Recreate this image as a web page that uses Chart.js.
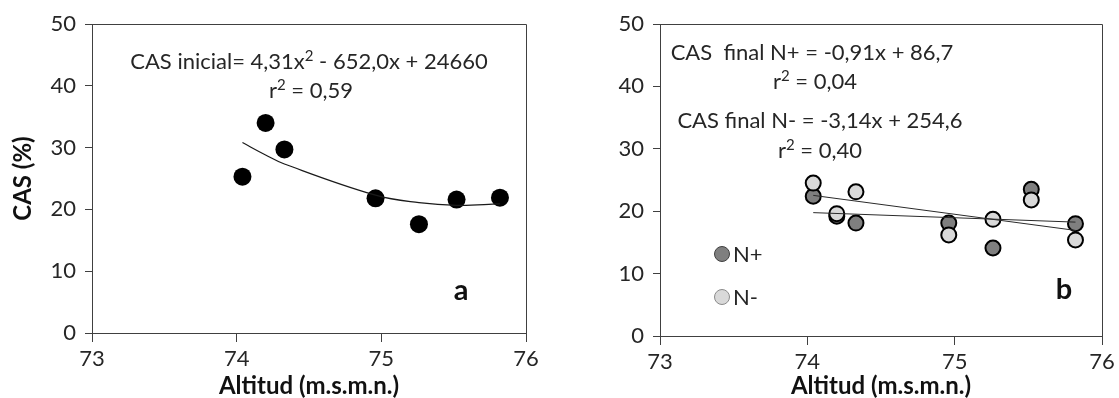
<!DOCTYPE html>
<html>
<head>
<meta charset="utf-8">
<script src="https://cdn.jsdelivr.net/npm/chart.js@4.4.1/dist/chart.umd.min.js"></script>
<style>
  html, body { margin: 0; padding: 0; background: #ffffff; }
  #wrap { position: relative; width: 1119px; height: 398px; overflow: hidden; }
  .panel { position: absolute; top: 0; height: 398px; }
</style>
</head>
<body>
<div id="wrap">
  <div class="panel" style="left:0;width:560px"><canvas id="panelA"></canvas></div>
  <div class="panel" style="left:560px;width:559px"><canvas id="panelB"></canvas></div>
</div>
<script>
// Altitude of each plot (m.s.m.n.) and soil water content (CAS, %)
const altitud        = [74.04, 74.20, 74.33, 74.96, 75.26, 75.52, 75.82];
const casInicial     = [25.3, 34.0, 29.7, 21.8, 17.6, 21.6, 21.9];
const casFinalNmas   = [22.4, 19.2, 18.1, 18.1, 14.1, 23.5, 18.0];
const casFinalNmenos = [24.5, 19.6, 23.1, 16.2, 18.7, 21.8, 15.4];

const xTicks = [73, 74, 75, 76];
const yTicks = [0, 10, 20, 30, 40, 50];

const eqInicial = ['CAS inicial= 4,31x² - 652,0x + 24660', 'r² = 0,59'];
const eqFinal   = ['CAS  final N+ = -0,91x + 86,7', 'r² = 0,04',
                   'CAS final N- = -3,14x + 254,6', 'r² = 0,40'];
const serieLabels = ['N+', 'N-'];
const panelLetters = ['a', 'b'];

const FONT = 'Lato, "Open Sans", sans-serif';
const AXIS = '#404040';
const TEXT = '#262626';

// least-squares straight line
function linearFit(xs, ys) {
  const n = xs.length;
  const mx = xs.reduce((s, v) => s + v, 0) / n;
  const my = ys.reduce((s, v) => s + v, 0) / n;
  let sxy = 0, sxx = 0;
  for (let i = 0; i < n; i++) { sxy += (xs[i] - mx) * (ys[i] - my); sxx += (xs[i] - mx) ** 2; }
  const m = sxy / sxx;
  return x => my + m * (x - mx);
}

// least-squares second-order polynomial (centred for stability)
function quadFit(xs, ys) {
  const n = xs.length;
  const x0 = xs.reduce((s, v) => s + v, 0) / n;
  const S = [0, 0, 0, 0, 0], T = [0, 0, 0];
  for (let i = 0; i < n; i++) {
    const u = xs[i] - x0;
    for (let k = 0; k < 5; k++) S[k] += u ** k;
    for (let k = 0; k < 3; k++) T[k] += ys[i] * u ** k;
  }
  const A = [[S[0], S[1], S[2], T[0]], [S[1], S[2], S[3], T[1]], [S[2], S[3], S[4], T[2]]];
  for (let c = 0; c < 3; c++) {
    for (let r = c + 1; r < 3; r++) {
      const f = A[r][c] / A[c][c];
      for (let k = c; k < 4; k++) A[r][k] -= f * A[c][k];
    }
  }
  const coef = [0, 0, 0];
  for (let r = 2; r >= 0; r--) {
    let s = A[r][3];
    for (let k = r + 1; k < 3; k++) s -= A[r][k] * coef[k];
    coef[r] = s / A[r][r];
  }
  return x => coef[0] + coef[1] * (x - x0) + coef[2] * (x - x0) ** 2;
}

const pts = (xs, ys) => xs.map((x, i) => ({ x, y: ys[i] }));

// text with a raised, smaller "2" wherever a squared sign appears
function drawRich(ctx, text, cx, cy, size) {
  const parts = text.split('²');
  const supSize = Math.round(size * 0.66);
  const segs = [];
  parts.forEach((p, i) => {
    if (p) segs.push({ t: p, sup: false });
    if (i < parts.length - 1) segs.push({ t: '2', sup: true });
  });
  let total = 0;
  segs.forEach(s => {
    ctx.font = `${s.sup ? supSize : size}px ${FONT}`;
    s.w = ctx.measureText(s.t).width;
    total += s.w;
  });
  let x = cx - total / 2;
  ctx.textAlign = 'left';
  ctx.textBaseline = 'alphabetic';
  segs.forEach(s => {
    ctx.font = `${s.sup ? supSize : size}px ${FONT}`;
    ctx.fillText(s.t, x, s.sup ? cy - size * 0.36 : cy);
    x += s.w;
  });
}

// frame along the top and right of the plot area
const framePlugin = {
  id: 'frame',
  beforeDatasetsDraw(chart) {
    const { ctx, chartArea: a } = chart;
    ctx.save();
    ctx.strokeStyle = AXIS;
    ctx.lineWidth = 1;
    ctx.beginPath();
    ctx.moveTo(Math.round(a.left) + 0.5, Math.round(a.top) + 0.5);
    ctx.lineTo(Math.round(a.right) + 0.5, Math.round(a.top) + 0.5);
    ctx.lineTo(Math.round(a.right) + 0.5, Math.round(a.bottom) + 0.5);
    ctx.stroke();
    ctx.restore();
  }
};

// equation captions, panel letter and in-plot key
const notesPlugin = {
  id: 'notes',
  afterDraw(chart, args, opts) {
    const { ctx, chartArea: a } = chart;
    ctx.save();
    ctx.fillStyle = TEXT;
    (opts.lines || []).forEach(l => drawRich(ctx, l.text, a.left + l.dx, a.top + l.dy, 22));
    if (opts.letter) {
      ctx.fillStyle = '#111';
      ctx.font = `bold 29px ${FONT}`;
      ctx.textAlign = 'center';
      ctx.textBaseline = 'alphabetic';
      ctx.fillText(opts.letter.text, a.left + opts.letter.dx, a.top + opts.letter.dy);
    }
    (opts.key || []).forEach(k => {
      const cx = a.left + k.dx, cy = a.top + k.dy;
      ctx.beginPath();
      ctx.arc(cx, cy, 7.5, 0, Math.PI * 2);
      ctx.fillStyle = k.fill;
      ctx.fill();
      ctx.lineWidth = 1;
      ctx.strokeStyle = k.stroke;
      ctx.stroke();
      ctx.fillStyle = TEXT;
      ctx.font = `22px ${FONT}`;
      ctx.textAlign = 'left';
      ctx.textBaseline = 'middle';
      ctx.fillText(k.text, cx + 11, cy + 1);
    });
    ctx.restore();
  }
};

function scales(yWidth, xHeight, yTitle) {
  const tickFont = { family: FONT, size: 22 };
  const titleFont = { family: FONT, size: 24, weight: 'bold', lineHeight: 1 };
  return {
    x: {
      type: 'linear', min: 73, max: 76,
      afterBuildTicks: s => { s.ticks = xTicks.map(v => ({ value: v })); },
      afterFit: s => { s.height = xHeight; },
      grid: { drawOnChartArea: false, drawTicks: true, tickLength: 9, color: AXIS },
      border: { display: true, color: AXIS, width: 1 },
      ticks: { font: tickFont, color: TEXT, padding: 4, maxRotation: 0 },
      title: { display: true, text: 'Altitud (m.s.m.n.)', font: titleFont, color: '#111',
               padding: { top: 0, bottom: 0 } }
    },
    y: {
      type: 'linear', min: 0, max: 50,
      afterBuildTicks: s => { s.ticks = yTicks.map(v => ({ value: v })); },
      afterFit: s => { s.width = yWidth; },
      grid: { drawOnChartArea: false, drawTicks: true, tickLength: 7, color: AXIS },
      border: { display: true, color: AXIS, width: 1 },
      ticks: { font: tickFont, color: TEXT, padding: 9 },
      title: { display: !!yTitle, text: yTitle || '', font: titleFont, color: '#111',
               padding: { top: 11, bottom: 0 } }
    }
  };
}

Chart.defaults.font.family = FONT;

// panel a: initial water content with quadratic trend
const fitA = quadFit(altitud, casInicial);
new Chart(document.getElementById('panelA'), {
  type: 'scatter',
  data: {
    datasets: [
      {
        label: 'tendencia', data: pts(altitud, altitud.map(fitA)), showLine: true,
        borderColor: '#1a1a1a', borderWidth: 1.2, pointRadius: 0, tension: 0.4, order: 0
      },
      {
        label: 'CAS inicial', data: pts(altitud, casInicial),
        pointRadius: 9, pointHoverRadius: 9, backgroundColor: '#000', borderWidth: 0, order: 1
      }
    ]
  },
  options: {
    responsive: true, maintainAspectRatio: false, animation: false,
    events: [],
    layout: { padding: { left: 0, top: 24, right: 34, bottom: 0 } },
    plugins: {
      legend: { display: false }, tooltip: { enabled: false },
      notes: {
        lines: [{ text: eqInicial[0], dx: 217, dy: 45 }, { text: eqInicial[1], dx: 219, dy: 74 }],
        letter: { text: panelLetters[0], dx: 369, dy: 276 }
      }
    },
    scales: scales(92, 65, 'CAS (%)')
  },
  plugins: [framePlugin, notesPlugin]
});

// panel b: final water content with and without N, linear trends
const fitMas = linearFit(altitud, casFinalNmas);
const fitMenos = linearFit(altitud, casFinalNmenos);
const xEnds = [Math.min(...altitud), Math.max(...altitud)];
new Chart(document.getElementById('panelB'), {
  type: 'scatter',
  data: {
    datasets: [
      {
        label: 'tendencia N+', data: pts(xEnds, xEnds.map(fitMas)), showLine: true,
        borderColor: '#2a2a2a', borderWidth: 1, pointRadius: 0, order: 0
      },
      {
        label: 'tendencia N-', data: pts(xEnds, xEnds.map(fitMenos)), showLine: true,
        borderColor: '#2a2a2a', borderWidth: 1, pointRadius: 0, order: 0
      },
      {
        label: serieLabels[1], data: pts(altitud, casFinalNmenos),
        pointRadius: 7.5, pointHoverRadius: 7.5, backgroundColor: '#d9d9d9',
        borderColor: '#000', borderWidth: 2, order: 1
      },
      {
        label: serieLabels[0], data: pts(altitud, casFinalNmas),
        pointRadius: 7.5, pointHoverRadius: 7.5, backgroundColor: '#7f7f7f',
        borderColor: '#000', borderWidth: 2, order: 2
      }
    ]
  },
  options: {
    responsive: true, maintainAspectRatio: false, animation: false,
    events: [],
    layout: { padding: { left: 0, top: 24, right: 17, bottom: 0 } },
    plugins: {
      legend: { display: false }, tooltip: { enabled: false },
      notes: {
        lines: [
          { text: eqFinal[0], dx: 152, dy: 36 }, { text: eqFinal[1], dx: 155, dy: 65 },
          { text: eqFinal[2], dx: 160, dy: 104 }, { text: eqFinal[3], dx: 160, dy: 134 }
        ],
        letter: { text: panelLetters[1], dx: 404, dy: 275 },
        key: [
          { text: serieLabels[0], dx: 62, dy: 230, fill: '#7f7f7f', stroke: '#404040' },
          { text: serieLabels[1], dx: 62, dy: 273, fill: '#d9d9d9', stroke: '#8a8a8a' }
        ]
      }
    },
    scales: scales(100, 62, '')
  },
  plugins: [framePlugin, notesPlugin]
});
</script>
</body>
</html>
